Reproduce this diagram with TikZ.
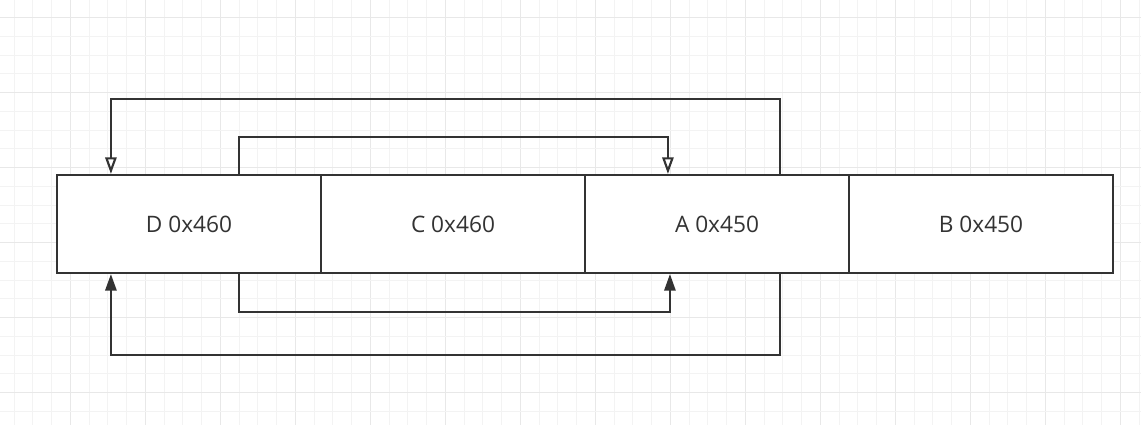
\documentclass[tikz,border=0pt]{standalone}
\usepackage{fontspec}
\setmainfont{Open Sans}
\usetikzlibrary{arrows.meta,calc}
\definecolor{ink}{HTML}{333333}
\definecolor{gridminor}{HTML}{F3F3F3}
\definecolor{gridmajor}{HTML}{E8E8E8}
\tikzset{
  cell/.style={draw=ink, line width=1.6pt, fill=white, minimum width=198pt, minimum height=73.5pt, inner sep=0pt, text=ink, font=\fontsize{17}{20}\selectfont},
  openarr/.style={draw=ink, line width=1.6pt, -{Triangle[length=12.5pt,width=8.5pt,fill=white]}},
  fillarr/.style={draw=ink, line width=1.6pt, -{Triangle[length=12.5pt,width=8.5pt]}},
}
\begin{document}
\begin{tikzpicture}[x=0.75pt,y=-0.75pt]
\useasboundingbox (0,0) rectangle (1141,425);
\fill[white] (0,0) rectangle (1141,425);
% grid
\foreach \k in {0,...,60}{
  \pgfmathtruncatemacro{\m}{mod(\k+1,4)}
  \ifnum\m=0
    \draw[gridmajor, line width=0.75pt] ({14.05+\k*18.75},0) -- ({14.05+\k*18.75},425);
  \else
    \draw[gridminor, line width=0.75pt] ({14.05+\k*18.75},0) -- ({14.05+\k*18.75},425);
  \fi
}
\foreach \k in {1,...,22}{
  \pgfmathtruncatemacro{\m}{mod(\k,4)}
  \ifnum\m=1
    \draw[gridmajor, line width=0.75pt] (0,{-1.05+\k*18.75}) -- (1141,{-1.05+\k*18.75});
  \else
    \draw[gridminor, line width=0.75pt] (0,{-1.05+\k*18.75}) -- (1141,{-1.05+\k*18.75});
  \fi
}
% cells
\node[cell] (d) at (189,224) {D 0x460};
\node[cell] (c) at (453,224) {C 0x460};
\node[cell] (a) at (717,224) {A 0x450};
\node[cell] (b) at (981,224) {B 0x450};
% connectors
\draw[openarr] ($(a.north west)+(196,0)$) -- ++(0,-75) -| ($(d.north west)+(55,0)$);
\draw[openarr] ($(d.north west)+(183,0)$) -- ++(0,-37) -| ($(a.north west)+(84,0)$);
\draw[fillarr] ($(d.south west)+(183,0)$) -- ++(0,38) -| ($(a.south west)+(86,0)$);
\draw[fillarr] ($(a.south west)+(196,0)$) -- ++(0,81) -| ($(d.south west)+(55,0)$);
\end{tikzpicture}
\end{document}
